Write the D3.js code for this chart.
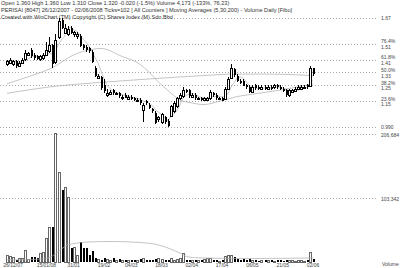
<!DOCTYPE html>
<html>
<head>
<meta charset="utf-8">
<script src="https://cdnjs.cloudflare.com/ajax/libs/d3/7.8.5/d3.min.js"></script>
<style>
  body { margin: 0; background: #fff; }
  svg { display: block; }
  text { font-family: "Liberation Sans", Arial, sans-serif; }
</style>
</head>
<body>
<div id="chart"></div>
<script>
// daily candles, 26/12/2007 - 02/06/2008 (102 ticks)
var opens = [1.38,1.39,1.38,1.40,1.37,1.39,1.41,1.44,1.47,1.44,1.43,1.41,1.42,1.44,1.46,1.50,1.39,1.55,1.66,1.58,
  1.57,1.61,1.57,1.56,1.56,1.50,1.49,1.48,1.46,1.36,1.30,1.30,1.25,1.19,1.20,1.22,1.20,1.20,1.18,1.19,
  1.17,1.18,1.17,1.16,1.16,1.10,1.15,1.13,1.10,1.08,1.04,1.02,1.05,1.03,1.06,1.09,1.12,1.17,1.18,1.22,
  1.22,1.18,1.19,1.17,1.17,1.16,1.16,1.17,1.20,1.19,1.17,1.17,1.17,1.23,1.30,1.35,1.31,1.28,1.28,1.25,
  1.24,1.21,1.25,1.24,1.23,1.24,1.23,1.24,1.24,1.25,1.24,1.23,1.22,1.19,1.21,1.22,1.23,1.23,1.24,1.25,
  1.25,1.36];
var highs = [1.41,1.42,1.41,1.41,1.40,1.42,1.47,1.46,1.48,1.45,1.44,1.44,1.45,1.52,1.55,1.51,1.57,1.67,1.67,1.63,
  1.62,1.62,1.59,1.58,1.57,1.51,1.50,1.49,1.47,1.37,1.32,1.31,1.29,1.23,1.22,1.23,1.21,1.21,1.19,1.20,
  1.19,1.19,1.18,1.17,1.17,1.14,1.16,1.14,1.11,1.09,1.06,1.08,1.06,1.04,1.13,1.15,1.18,1.20,1.24,1.23,
  1.23,1.20,1.20,1.18,1.18,1.18,1.18,1.22,1.21,1.20,1.18,1.18,1.24,1.30,1.38,1.36,1.32,1.29,1.29,1.26,
  1.25,1.25,1.26,1.25,1.25,1.25,1.25,1.25,1.26,1.26,1.25,1.24,1.23,1.23,1.23,1.24,1.25,1.25,1.25,1.26,
  1.37,1.36];
var lows = [1.37,1.38,1.37,1.36,1.37,1.38,1.40,1.43,1.42,1.41,1.41,1.40,1.41,1.43,1.45,1.36,1.38,1.54,1.60,1.57,
  1.56,1.57,1.55,1.54,1.49,1.47,1.46,1.45,1.39,1.30,1.29,1.22,1.20,1.18,1.19,1.19,1.19,1.17,1.16,1.17,
  1.16,1.16,1.15,1.15,1.13,1.02,1.13,1.10,1.08,1.01,1.02,1.01,1.01,0.99,1.05,1.08,1.11,1.16,1.17,1.20,
  1.17,1.17,1.16,1.16,1.15,1.15,1.15,1.16,1.18,1.16,1.16,1.15,1.16,1.22,1.29,1.30,1.27,1.26,1.25,1.23,
  1.20,1.20,1.22,1.22,1.22,1.22,1.22,1.22,1.23,1.23,1.22,1.21,1.18,1.18,1.20,1.21,1.22,1.22,1.23,1.23,
  1.24,1.31];
var closes = [1.40,1.41,1.40,1.37,1.39,1.41,1.45,1.45,1.43,1.42,1.41,1.43,1.44,1.47,1.50,1.38,1.53,1.65,1.61,1.61,
  1.60,1.58,1.58,1.57,1.50,1.48,1.47,1.46,1.40,1.31,1.31,1.23,1.21,1.20,1.21,1.20,1.20,1.18,1.18,1.17,
  1.18,1.17,1.16,1.16,1.14,1.13,1.14,1.11,1.09,1.02,1.05,1.07,1.02,1.00,1.12,1.14,1.17,1.19,1.22,1.21,
  1.18,1.19,1.17,1.17,1.16,1.17,1.17,1.21,1.19,1.17,1.17,1.15,1.23,1.29,1.36,1.31,1.28,1.27,1.25,1.24,
  1.21,1.24,1.23,1.23,1.24,1.23,1.24,1.23,1.25,1.24,1.23,1.22,1.19,1.22,1.22,1.23,1.24,1.24,1.24,1.24,
  1.36,1.32];
var volumes = [11000,9500,8000,3500,6000,6000,19000,5000,8000,7500,7000,14000,16000,38000,56000,56000,208000,145000,116000,121000,
  105000,22000,24000,12000,32000,23000,22000,11000,18000,6000,5000,4000,7000,5000,4000,6000,3000,5000,4000,3000,
  3500,3000,4000,3000,5000,6000,3000,2500,3000,5000,6000,5000,3000,4000,6000,4000,5000,6000,14500,3000,
  4000,3000,2500,3000,4000,5000,6000,7000,3000,3500,2000,3000,9000,12000,12000,8000,5000,4000,5000,4000,
  5000,3000,2500,2000,2500,3000,2500,3000,2000,2500,3000,2000,3500,3000,2500,2000,3000,2500,2000,3000,
  16000,4173];

// moving averages (tick index, value)
var ma30Idx = [0,8,15,22,27,31,38,44,47,50,53,57,61,65,70,76,83,90,96,101];
var ma30Val = [1.26,1.31,1.36,1.44,1.47,1.48,1.43,1.38,1.33,1.27,1.22,1.16,1.14,1.13,1.15,1.18,1.20,1.22,1.24,1.26];
var ma200Idx = [0,14,32,47,64,75,87,101];
var ma200Val = [1.20,1.24,1.27,1.29,1.31,1.32,1.32,1.31];
var volMaIdx = [0,12,15,18,20,27,34,44,50,54,57,60,64,80,101];
var volMaVal = [3200,4800,9700,21000,27500,32300,33100,31500,27500,21000,14500,8000,6500,5600,6500];

// fibonacci levels between low 0.990 and high 1.67
var fibPct = ["76.4%","61.8%","50.0%","38.2%","23.6%"];
var fibPrice = [1.51,1.41,1.33,1.25,1.15];
var priceLow = 0.99, priceHigh = 1.67;
var volTicks = [103342,206684];

var tickIdx = [2,13,22,32,41,51,61,71,81,91,101];
var tickLabels = ["26/12/07","15/01/08","31/01","19/02","04/03","18/03","02/04","17/04","06/05","21/05","02/06"];

var headLines = [
  "Open 1.360  High 1.360  Low 1.310  Close 1.320  -0.020 (-1.5%)  Volume 4,173  (-133%, 76.23)",
  "PERISAI [8047]  26/12/2007 - 02/06/2008  Ticks=102  [ All Counters ]  Moving Averages (5,30,200) - Volume     Daily [Fibo]",
  "Created with WinChart (TM)  Copyright (C) Shares Index (M) Sdn Bhd"
];

var width = 400, height = 268;
var svg = d3.select("#chart").append("svg")
  .attr("width", width)
  .attr("height", height);

var x = d3.scaleLinear().domain([0, 101]).range([7, 313]);
var y = d3.scaleLinear().domain([priceLow, priceHigh]).range([127, 18]);
var yv = d3.scaleLinear().domain([0, 206684]).range([262, 134]);
var gridRight = 378, labelX = 381;

// grid lines
var grid = svg.append("g");
var levels = [priceHigh].concat(fibPrice, [priceLow]);
grid.selectAll("line.p").data(levels).enter().append("line")
  .attr("x1", 0).attr("x2", gridRight)
  .attr("y1", d => Math.round(y(d)) + 0.5).attr("y2", d => Math.round(y(d)) + 0.5)
  .attr("stroke", "#aaa").attr("stroke-dasharray", "1,2");
grid.selectAll("line.v").data(volTicks).enter().append("line")
  .attr("x1", 0).attr("x2", gridRight)
  .attr("y1", d => Math.round(yv(d)) + 0.5).attr("y2", d => Math.round(yv(d)) + 0.5)
  .attr("stroke", "#aaa").attr("stroke-dasharray", "1,2");

// right labels
var lab = svg.append("g").attr("font-size", 5).attr("fill", "#444");
lab.append("text").attr("x", labelX).attr("y", y(priceHigh) + 2).text(priceHigh.toFixed(2));
lab.append("text").attr("x", labelX).attr("y", y(priceLow) + 2).text(priceLow.toFixed(3));
fibPrice.forEach(function(p, i) {
  lab.append("text").attr("x", labelX).attr("y", y(p) - 0.5).text(fibPct[i]);
  lab.append("text").attr("x", labelX).attr("y", y(p) + 5).text(p.toFixed(2));
});
volTicks.forEach(function(v) {
  lab.append("text").attr("x", labelX).attr("y", yv(v) + 2.5).text(d3.format(",")(v));
});
lab.append("text").attr("x", 382).attr("y", 266).text("Volume");

// header
svg.append("g").selectAll("text").data(headLines).enter().append("text")
  .attr("x", 1).attr("y", (d, i) => 5 + i * 7)
  .attr("font-size", 5.6).attr("fill", "#333")
  .text(d => d);

// moving averages
var line = d3.line().x(d => x(d[0])).y(d => y(d[1])).curve(d3.curveMonotoneX);
var ma5 = closes.map(function(c, i) {
  var s = closes.slice(Math.max(0, i - 4), i + 1);
  return [i, d3.mean(s)];
});
var ma30 = ma30Idx.map((d, i) => [d, ma30Val[i]]);
var ma200 = ma200Idx.map((d, i) => [d, ma200Val[i]]);
[ma5, ma30, ma200].forEach(function(m) {
  svg.append("path").datum(m).attr("d", line)
    .attr("fill", "none").attr("stroke", "#aaa").attr("stroke-width", 0.7);
});

// candles
var idx = d3.range(closes.length);
var up = i => closes[i] >= opens[i];
var candles = svg.append("g").attr("shape-rendering", "crispEdges");
candles.selectAll("line").data(idx).enter().append("line")
  .attr("x1", i => Math.round(x(i)) + 0.5).attr("x2", i => Math.round(x(i)) + 0.5)
  .attr("y1", i => Math.round(y(highs[i]))).attr("y2", i => Math.round(y(lows[i])))
  .attr("stroke", "#000");
candles.selectAll("rect").data(idx).enter().append("rect")
  .attr("x", i => up(i) ? Math.round(x(i)) - 0.5 : Math.round(x(i)))
  .attr("width", i => up(i) ? 2 : 2)
  .attr("y", i => Math.round(y(Math.max(opens[i], closes[i]))))
  .attr("height", i => Math.max(1, Math.round(Math.abs(y(opens[i]) - y(closes[i])))))
  .attr("fill", i => up(i) ? "#fff" : "#000")
  .attr("stroke", i => up(i) ? "#000" : "none");

// volume bars
var vol = svg.append("g").attr("shape-rendering", "crispEdges");
vol.selectAll("rect").data(idx).enter().append("rect")
  .attr("x", i => up(i) ? Math.round(x(i)) - 0.5 : Math.round(x(i)))
  .attr("width", 2)
  .attr("y", i => Math.round(yv(volumes[i])))
  .attr("height", i => Math.round(yv(0) - yv(volumes[i])))
  .attr("fill", i => up(i) ? "#fff" : "#000")
  .attr("stroke", i => up(i) ? "#666" : "none");

var vline = d3.line().x(d => x(d[0])).y(d => yv(d[1])).curve(d3.curveMonotoneX);
svg.append("path").datum(volMaIdx.map((d, i) => [d, volMaVal[i]]))
  .attr("d", vline).attr("fill", "none").attr("stroke", "#aaa").attr("stroke-width", 0.7);

// date labels
svg.append("g").selectAll("text").data(tickIdx).enter().append("text")
  .attr("x", i => x(i)).attr("y", 267)
  .attr("text-anchor", "middle").attr("font-size", 5).attr("fill", "#444")
  .text((d, i) => tickLabels[i]);
</script>
</body>
</html>
